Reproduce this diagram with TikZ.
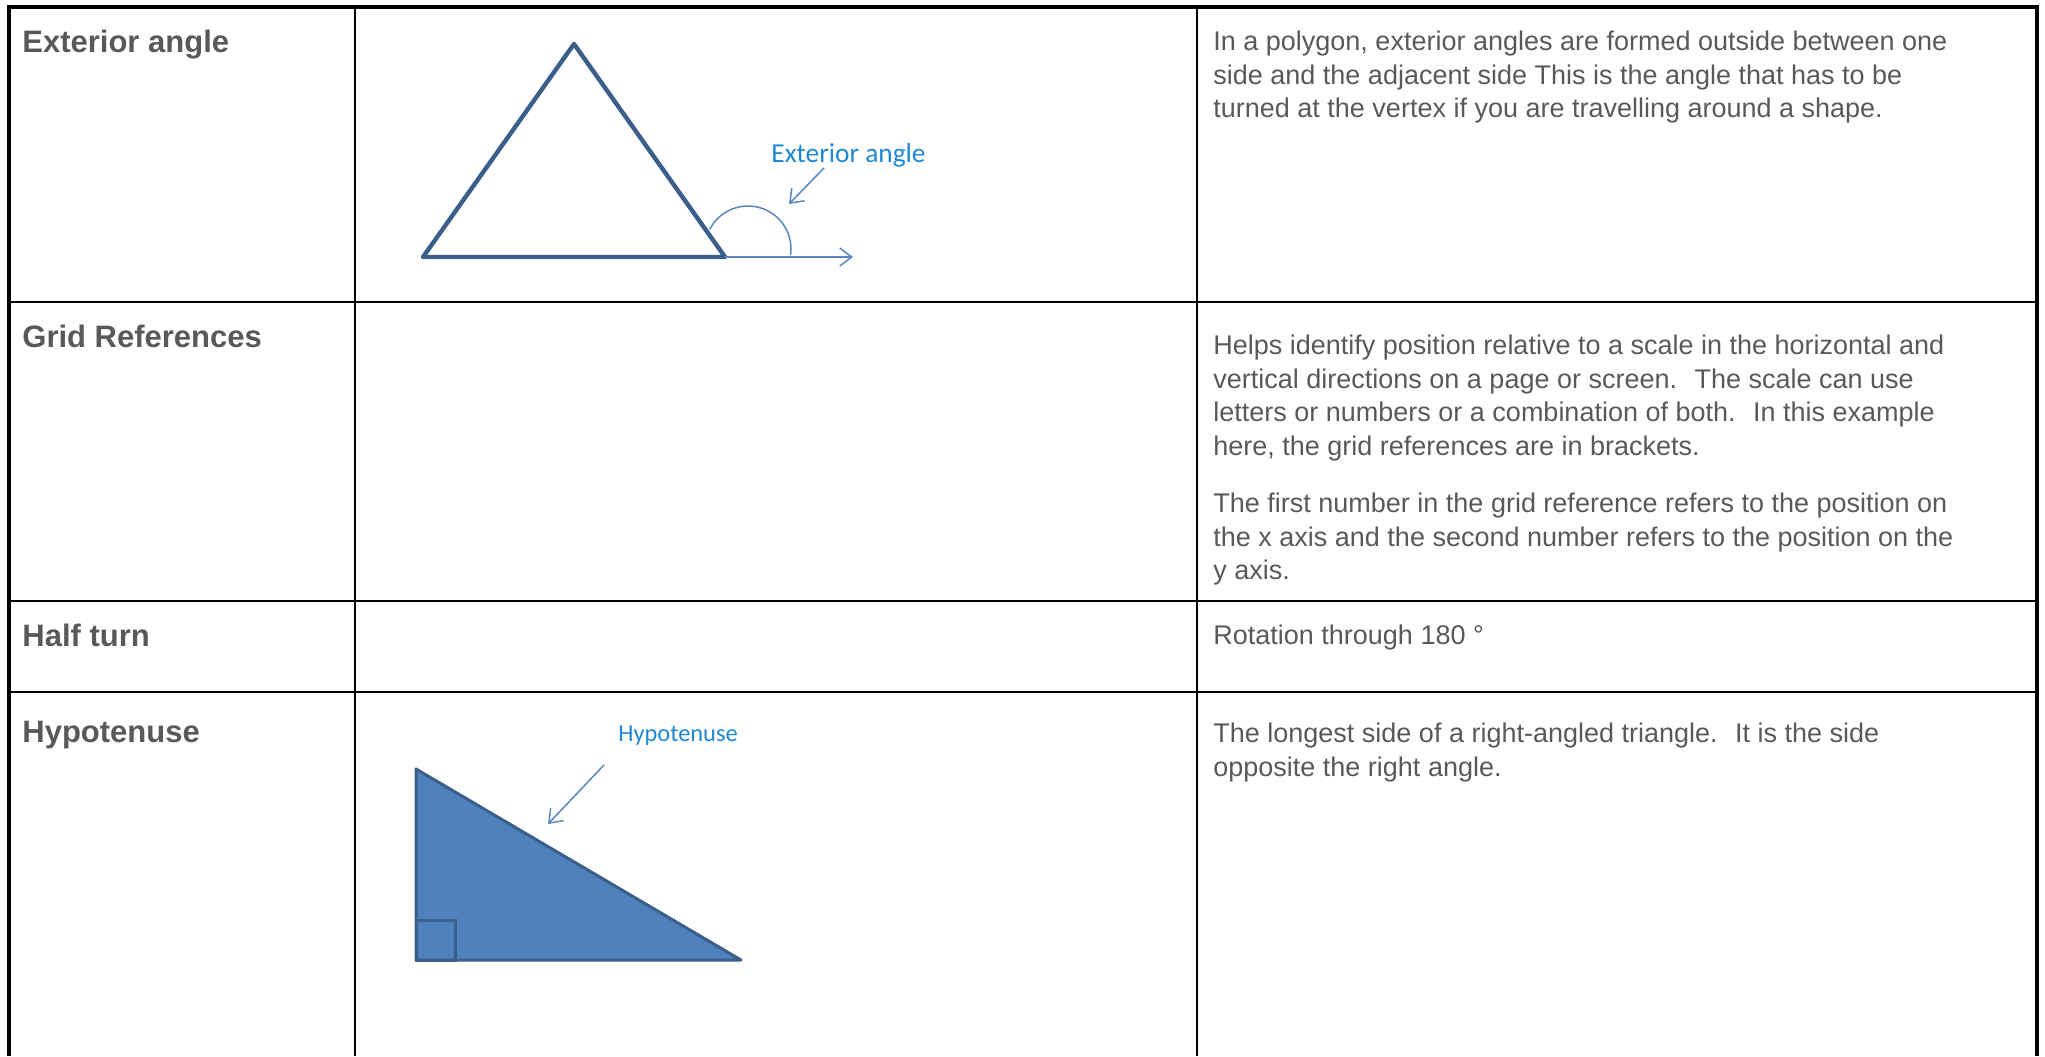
\documentclass[tikz,border=0pt]{standalone}
\usepackage{fontspec}
\setmainfont{Liberation Sans}
\newfontfamily\calibri{Carlito}
\usepackage{tikz}
\usetikzlibrary{positioning,arrows.meta,calc}
\definecolor{textgray}{RGB}{89,89,89}
\definecolor{shapeblue}{RGB}{58,95,139}
\definecolor{fillblue}{RGB}{79,129,189}
\definecolor{lineblue}{RGB}{91,134,192}
\definecolor{labelblue}{RGB}{30,136,212}

\begin{document}
\begin{tikzpicture}[x=0.5pt, y=-0.5pt,
  term/.style={anchor=base west, inner sep=0pt, text=textgray, font=\bfseries\fontsize{15.5}{18}\selectfont},
  desc/.style={anchor=north west, inner sep=0pt, align=left, text=textgray, font=\fontsize{13.5}{16.75}\selectfont},
  callout/.style={anchor=base west, inner sep=0pt, text=labelblue},
  pointer/.style={draw=lineblue, line width=0.75pt, -{Straight Barb[length=6pt,width=9pt]}}]
  \useasboundingbox (0,0) rectangle (2045,1056);

  % table rules
  \foreach \y in {302,601,692}
    \draw[line width=1.3pt] (9,\y) -- (2037,\y);
  \draw[line width=1.3pt] (355,7) -- (355,1056);
  \draw[line width=1.3pt] (1197,7) -- (1197,1056);
  \draw[line width=1.75pt] (9,1056) -- (9,7) -- (2037,7) -- (2037,1056);

  % first column
  \node[term] (extTerm) at (22,52) {Exterior angle};
  \node[term] (gridTerm) at (22,347) {Grid References};
  \node[term] (halfTerm) at (22,646) {Half turn};
  \node[term] (hypTerm) at (22,742) {Hypotenuse};

  % third column
  \node[desc] (extDesc) at (1213,31) {In a polygon, exterior angles are formed outside between one\\
    side and the adjacent side This is the angle that has to be\\
    turned at the vertex if you are travelling around a shape.};
  \node[desc] (gridDesc) at (1213,335) {Helps identify position relative to a scale in the horizontal and\\
    vertical directions on a page or screen.~ The scale can use\\
    letters or numbers or a combination of both.~ In this example\\
    here, the grid references are in brackets.\\[12pt]
    The first number in the grid reference refers to the position on\\
    the x axis and the second number refers to the position on the\\
    y axis.};
  \node[desc] (halfDesc) at (1213,625) {Rotation through 180 °};
  \node[desc] (hypDesc) at (1213,723) {The longest side of a right-angled triangle.~ It is the side\\
    opposite the right angle.};

  % exterior angle sketch
  \coordinate (eA) at (423,257);
  \coordinate (eB) at (574,44);
  \coordinate (eC) at (725,257);
  \coordinate (eRay) at (853,257);
  \coordinate (eArc) at (748,249);
  \draw[shapeblue, line width=2.2pt, line join=round] (eA) -- (eB) -- (eC) -- cycle;
  \draw[pointer] (eC) -- (eRay);
  \draw[lineblue, line width=0.75pt] (eArc) ++(207:43) arc[start angle=207, end angle=368, radius=43];
  \node[callout, font=\calibri\fontsize{13.7}{16}\selectfont] (extLabel) at (771,162) {Exterior angle};
  \coordinate (extFrom) at (824,168);
  \coordinate (extTo) at (789,204);
  \draw[pointer] (extFrom) -- (extTo);

  % hypotenuse sketch
  \coordinate (hA) at (416,769);
  \coordinate (hB) at (416,960);
  \coordinate (hC) at (741,960);
  \filldraw[fill=fillblue, draw=shapeblue, line width=1.5pt, line join=round] (hA) -- (hB) -- (hC) -- cycle;
  \draw[shapeblue, line width=1.5pt] (416,920) rectangle (455,960);
  \node[callout, font=\calibri\fontsize{12.2}{14}\selectfont] (hypLabel) at (618,741) {Hypotenuse};
  \coordinate (hypFrom) at (604,765);
  \coordinate (hypTo) at (548,824);
  \draw[pointer] (hypFrom) -- (hypTo);
\end{tikzpicture}
\end{document}
